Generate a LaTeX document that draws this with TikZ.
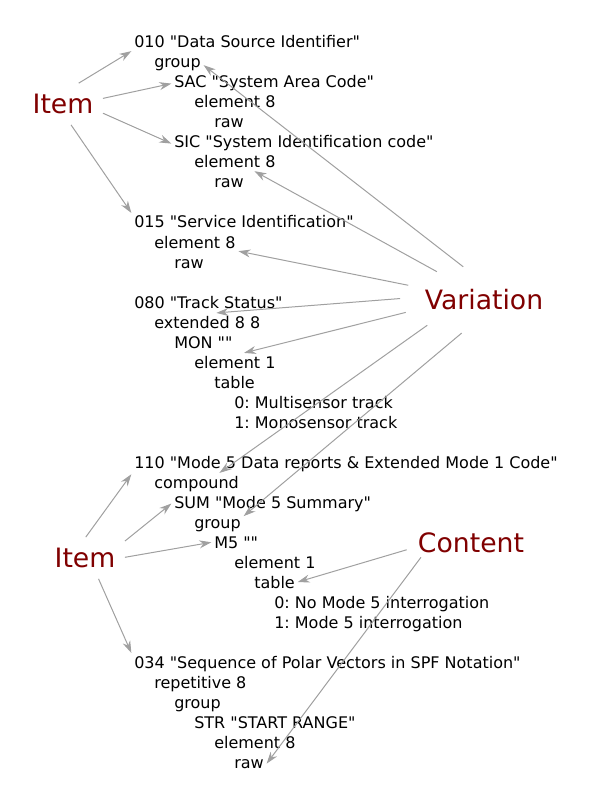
\documentclass[tikz,border=0pt]{standalone}
\usepackage{fontspec}
\setmainfont{DejaVu Sans}[Ligatures=TeXOff]
\usepackage{tikz}
\usetikzlibrary{arrows.meta}
\usetikzlibrary{shapes.geometric}
\usepackage{xcolor}
\definecolor{itemred}{HTML}{800000}
\definecolor{linkgray}{HTML}{A0A0A0}
\frenchspacing

\tikzset{
  entry/.style={anchor=base west, inner sep=2pt, xshift=-2pt, font=\fontsize{12}{14}\selectfont},
  kind/.style={text=itemred, font=\fontsize{20}{24}\selectfont, inner xsep=7pt, inner ysep=8pt},
  link/.style={draw=linkgray, line width=0.75pt, -{Stealth[length=9pt,width=6pt]}}
}

\begin{document}
\begin{tikzpicture}[x=0.75pt,y=-0.75pt]
  \useasboundingbox (0,0) rectangle (592,805);
  \node[entry] (i010) at (134,48) {010 "Data Source Identifier"};
  \node[entry] (i010G) at (154,68) {group};
  \node[entry] (sac) at (174,88) {SAC "System Area Code"};
  \node[entry] (sacE) at (194,108) {element 8};
  \node[entry] (sacR) at (214,128) {raw};
  \node[entry] (sic) at (174,148) {SIC "System Identification code"};
  \node[entry] (sicE) at (194,168) {element 8};
  \node[entry] (sicR) at (214,188) {raw};
  \node[entry] (i015) at (134,228) {015 "Service Identification"};
  \node[entry] (i015E) at (154,248) {element 8};
  \node[entry] (i015R) at (174,268) {raw};
  \node[entry] (i080) at (134,308) {080 "Track Status"};
  \node[entry] (i080X) at (154,328) {extended 8 8};
  \node[entry] (mon) at (174,348) {MON ""};
  \node[entry] (monE) at (194,368) {element 1};
  \node[entry] (monT) at (214,388) {table};
  \node[entry] (monA) at (234,408) {0: Multisensor track};
  \node[entry] (monB) at (234,428) {1: Monosensor track};
  \node[entry] (i110) at (134,468) {110 "Mode 5 Data reports \& Extended Mode 1 Code"};
  \node[entry] (i110C) at (154,488) {compound};
  \node[entry] (sum) at (174,508) {SUM "Mode 5 Summary"};
  \node[entry] (sumG) at (194,528) {group};
  \node[entry] (mfive) at (214,548) {M5 ""};
  \node[entry] (mfiveE) at (234,568) {element 1};
  \node[entry] (mfiveT) at (254,588) {table};
  \node[entry] (mfiveA) at (274,608) {0: No Mode 5 interrogation};
  \node[entry] (mfiveB) at (274,628) {1: Mode 5 interrogation};
  \node[entry] (i034) at (134,668) {034 "Sequence of Polar Vectors in SPF Notation"};
  \node[entry] (i034R) at (154,688) {repetitive 8};
  \node[entry] (i034G) at (174,708) {group};
  \node[entry] (str) at (194,728) {STR "START RANGE"};
  \node[entry] (strE) at (214,748) {element 8};
  \node[entry] (strR) at (234,768) {raw};

  \node[kind] (item1) at (63,104) {Item};
  \node[kind] (item2) at (85,558) {Item};
  \node[kind, ellipse, inner sep=0pt, minimum height=51pt] (var) at (484,300) {Variation};
  \node[kind, inner xsep=8.25pt, inner ysep=3pt] (content) at (471,543) {Content};

  \draw[link] (item1.53) -- (i010.south west);
  \draw[link] (item1.8) -- (sac.west);
  \draw[link] (item1.-13) -- (sic.west);
  \draw[link] (item1.-69) -- (i015.north west);
  \draw[link] (var.122) -- (i010G.east);
  \draw[link] (var.149) -- (sicE.-25);
  \draw[link] (var.169) -- (i015E.south east);
  \draw[link] (var.179) -- (i080X.45);
  \draw[link] (var.189) -- (monE.45);
  \draw[link] (var.204) -- (i110C.25);
  \draw[link] (var.236) -- (sumG.north east);
  \draw[link] (item2.88) -- (i110.south west);
  \draw[link] (item2.23) -- (sum.west);
  \draw[link] (item2.1) -- (mfive.west);
  \draw[link] (item2.-57) -- (i034.north west);
  \draw[link] (content.186) -- (mfiveT.east);
  \draw[link] (content.196) -- (strR.east);
\end{tikzpicture}
\end{document}
